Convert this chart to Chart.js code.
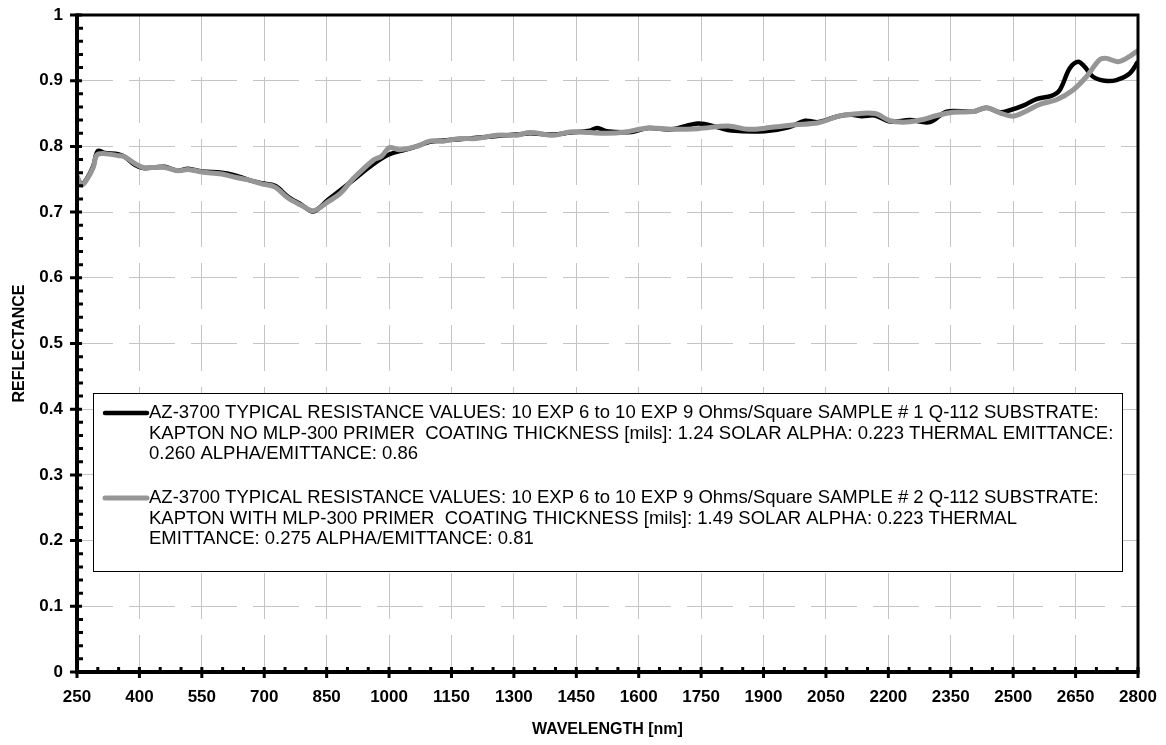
<!DOCTYPE html>
<html>
<head>
<meta charset="utf-8">
<title>AZ-3700 Reflectance</title>
<script src="https://cdn.jsdelivr.net/npm/chart.js@4.4.1/dist/chart.umd.min.js"></script>
<style>
  html, body { margin: 0; padding: 0; background: #ffffff; }
  canvas { display: block; }
</style>
</head>
<body>
<canvas id="chart" width="1166" height="745"></canvas>
<script>
// Sample 1: Kapton without MLP-300 primer
const sample1Nm = [250, 261, 273, 289, 300, 317, 349, 365, 389, 409, 437, 461, 493, 517, 550, 598, 630, 662, 694, 726, 758, 790, 818, 854, 882, 914, 962, 1001, 1040, 1066, 1098, 1130, 1170, 1210, 1259, 1307, 1339, 1395, 1435, 1483, 1500, 1523, 1583, 1623, 1679, 1743, 1790, 1823, 1903, 1960, 2000, 2032, 2080, 2112, 2136, 2168, 2204, 2252, 2300, 2340, 2404, 2436, 2468, 2492, 2524, 2556, 2592, 2612, 2636, 2656, 2672, 2692, 2720, 2748, 2780, 2800];
const sample1R = [0.752, 0.743, 0.750, 0.770, 0.793, 0.790, 0.788, 0.784, 0.772, 0.767, 0.768, 0.769, 0.763, 0.766, 0.762, 0.760, 0.756, 0.749, 0.744, 0.740, 0.723, 0.711, 0.701, 0.719, 0.733, 0.749, 0.773, 0.788, 0.795, 0.800, 0.807, 0.809, 0.811, 0.813, 0.816, 0.818, 0.820, 0.818, 0.821, 0.824, 0.828, 0.823, 0.822, 0.828, 0.826, 0.835, 0.829, 0.824, 0.823, 0.829, 0.839, 0.837, 0.846, 0.848, 0.846, 0.847, 0.838, 0.840, 0.837, 0.853, 0.853, 0.859, 0.852, 0.855, 0.862, 0.872, 0.877, 0.886, 0.919, 0.929, 0.921, 0.906, 0.900, 0.901, 0.911, 0.929];

// Sample 2: Kapton with MLP-300 primer
const sample2Nm = [250, 261, 273, 289, 298, 317, 349, 365, 389, 409, 437, 461, 493, 517, 550, 598, 630, 662, 694, 726, 758, 790, 818, 854, 882, 914, 962, 982, 1001, 1026, 1066, 1098, 1130, 1170, 1210, 1259, 1307, 1339, 1395, 1435, 1483, 1523, 1567, 1623, 1679, 1743, 1815, 1863, 1920, 1976, 2032, 2080, 2112, 2168, 2204, 2244, 2284, 2316, 2356, 2404, 2436, 2468, 2500, 2532, 2564, 2604, 2644, 2676, 2708, 2724, 2752, 2780, 2800];
const sample2R = [0.755, 0.741, 0.749, 0.768, 0.787, 0.789, 0.786, 0.784, 0.774, 0.768, 0.768, 0.768, 0.763, 0.765, 0.761, 0.758, 0.753, 0.749, 0.743, 0.738, 0.721, 0.710, 0.702, 0.716, 0.728, 0.751, 0.779, 0.785, 0.798, 0.795, 0.800, 0.808, 0.808, 0.812, 0.812, 0.817, 0.817, 0.821, 0.817, 0.822, 0.821, 0.820, 0.822, 0.828, 0.826, 0.827, 0.831, 0.826, 0.829, 0.833, 0.836, 0.846, 0.849, 0.850, 0.839, 0.837, 0.841, 0.847, 0.852, 0.853, 0.859, 0.851, 0.846, 0.854, 0.864, 0.871, 0.886, 0.906, 0.932, 0.934, 0.929, 0.937, 0.946];

// Axis tick values (majors are labelled, minors subdivide them)
const xTickValues = [250, 400, 550, 700, 850, 1000, 1150, 1300, 1450, 1600, 1750, 1900, 2050, 2200, 2350, 2500, 2650, 2800];
const yTickValues = [0, 0.1, 0.2, 0.3, 0.4, 0.5, 0.6, 0.7, 0.8, 0.9, 1];
const xMinorPerMajor = 3;
const yMinorPerMajor = 5;

const xTitle = 'WAVELENGTH [nm]';
const yTitle = 'REFLECTANCE';

const sample1Legend = [
  'AZ-3700 TYPICAL RESISTANCE VALUES: 10 EXP 6 to 10 EXP 9 Ohms/Square SAMPLE # 1 Q-112 SUBSTRATE:',
  'KAPTON NO MLP-300 PRIMER  COATING THICKNESS [mils]: 1.24 SOLAR ALPHA: 0.223 THERMAL EMITTANCE:',
  '0.260 ALPHA/EMITTANCE: 0.86'
];
const sample2Legend = [
  'AZ-3700 TYPICAL RESISTANCE VALUES: 10 EXP 6 to 10 EXP 9 Ohms/Square SAMPLE # 2 Q-112 SUBSTRATE:',
  'KAPTON WITH MLP-300 PRIMER  COATING THICKNESS [mils]: 1.49 SOLAR ALPHA: 0.223 THERMAL',
  'EMITTANCE: 0.275 ALPHA/EMITTANCE: 0.81'
];

const FONT = '"Liberation Sans", Arial, Helvetica, sans-serif';
Chart.defaults.font.family = FONT;
Chart.defaults.color = '#000000';

const toPoints = (xs, ys) => xs.map((x, i) => ({ x: x, y: ys[i] }));

// Axis frame with crossing major ticks and inside minor ticks
const framePlugin = {
  id: 'frameTicks',
  afterDatasetsDraw(chart) {
    const { ctx, chartArea: a, scales: { x, y } } = chart;
    ctx.save();
    ctx.strokeStyle = '#000000';
    ctx.lineCap = 'butt';
    ctx.lineWidth = 3;
    ctx.beginPath();
    xTickValues.forEach((v, i) => {
      const px = x.getPixelForValue(v);
      ctx.moveTo(px, a.bottom + 6);
      ctx.lineTo(px, a.bottom - 5);
      if (i < xTickValues.length - 1) {
        const step = (xTickValues[i + 1] - v) / xMinorPerMajor;
        for (let k = 1; k < xMinorPerMajor; k++) {
          const mx = x.getPixelForValue(v + k * step);
          ctx.moveTo(mx, a.bottom);
          ctx.lineTo(mx, a.bottom - 5);
        }
      }
    });
    yTickValues.forEach((v, i) => {
      const py = y.getPixelForValue(v);
      ctx.moveTo(a.left - 7, py);
      ctx.lineTo(a.left + 5, py);
      if (i < yTickValues.length - 1) {
        const step = (yTickValues[i + 1] - v) / yMinorPerMajor;
        for (let k = 1; k < yMinorPerMajor; k++) {
          const my = y.getPixelForValue(v + k * step);
          ctx.moveTo(a.left, my);
          ctx.lineTo(a.left + 6, my);
        }
      }
    });
    ctx.stroke();
    // top and right border
    ctx.lineWidth = 3;
    ctx.beginPath();
    ctx.moveTo(a.left, a.top);
    ctx.lineTo(a.right, a.top);
    ctx.lineTo(a.right, a.bottom);
    ctx.stroke();
    // axes
    ctx.lineWidth = 4;
    ctx.beginPath();
    ctx.moveTo(a.left, a.top - 1.5);
    ctx.lineTo(a.left, a.bottom);
    ctx.lineTo(a.right + 1.5, a.bottom);
    ctx.stroke();
    ctx.restore();
  }
};

// Boxed legend inside the plot area, with pre-broken description lines
const boxLegendPlugin = {
  id: 'boxLegend',
  afterDraw(chart, args, opts) {
    const { ctx, chartArea: a } = chart;
    const left = a.left + opts.insetX;
    const right = a.right - opts.insetX;
    const top = opts.top;
    const bottom = opts.bottom;
    ctx.save();
    ctx.fillStyle = '#ffffff';
    ctx.fillRect(left, top, right - left, bottom - top);
    ctx.strokeStyle = '#000000';
    ctx.lineWidth = 1;
    ctx.strokeRect(Math.round(left) + 0.5, Math.round(top) + 0.5, Math.round(right - left), Math.round(bottom - top));
    ctx.font = opts.fontSize + 'px ' + FONT;
    ctx.textBaseline = 'middle';
    ctx.textAlign = 'left';
    ctx.fillStyle = '#000000';
    chart.data.datasets.forEach((ds, di) => {
      const lines = ds.legendLines;
      const y0 = opts.firstLineY[di];
      ctx.strokeStyle = ds.borderColor;
      ctx.lineWidth = ds.borderWidth;
      ctx.lineCap = 'round';
      ctx.beginPath();
      ctx.moveTo(left + opts.swatchStart, y0);
      ctx.lineTo(left + opts.swatchEnd, y0);
      ctx.stroke();
      lines.forEach((t, li) => {
        ctx.fillText(t, left + opts.textStart, y0 + li * opts.lineGap);
      });
    });
    ctx.restore();
  }
};

new Chart(document.getElementById('chart'), {
  type: 'line',
  data: {
    datasets: [
      {
        label: sample1Legend.join(' '),
        legendLines: sample1Legend,
        data: toPoints(sample1Nm, sample1R),
        borderColor: '#000000',
        borderWidth: 4.5,
        pointRadius: 0,
        tension: 0.35,
        fill: false,
        order: 1
      },
      {
        label: sample2Legend.join(' '),
        legendLines: sample2Legend,
        data: toPoints(sample2Nm, sample2R),
        borderColor: '#969696',
        borderWidth: 5,
        pointRadius: 0,
        tension: 0.35,
        fill: false,
        order: 0
      }
    ]
  },
  options: {
    responsive: false,
    animation: false,
    devicePixelRatio: 1,
    layout: { padding: { top: 15, right: 28, left: 0, bottom: 0 } },
    plugins: {
      legend: { display: false },
      tooltip: { enabled: false },
      boxLegend: {
        insetX: 16,
        top: 393,
        bottom: 571,
        swatchStart: 12,
        swatchEnd: 54,
        textStart: 56,
        fontSize: 18.5,
        lineGap: 20.5,
        firstLineY: [413, 498]
      }
    },
    scales: {
      x: {
        type: 'linear',
        min: 250,
        max: 2800,
        afterBuildTicks: s => { s.ticks = xTickValues.map(v => ({ value: v })); },
        afterFit: s => { s.height = 73; s.paddingLeft = 0; s.paddingRight = 0; },
        ticks: {
          font: { size: 17, weight: 'bold' },
          color: '#000000',
          padding: 15,
          maxRotation: 0,
          autoSkip: false,
          callback: v => String(v)
        },
        grid: { color: '#c4c4c4', lineWidth: 1, drawTicks: false },
        border: { display: false, dash: [46, 16], dashOffset: 0 },
        title: {
          display: true,
          text: xTitle,
          font: { size: 16, weight: 'bold' },
          color: '#000000',
          padding: { top: 0, bottom: 6 }
        }
      },
      y: {
        type: 'linear',
        min: 0,
        max: 1,
        afterBuildTicks: s => { s.ticks = yTickValues.map(v => ({ value: v })); },
        afterFit: s => { s.width = 77; s.paddingTop = 0; s.paddingBottom = 0; },
        ticks: {
          font: { size: 17, weight: 'bold' },
          color: '#000000',
          padding: 14,
          autoSkip: false,
          callback: v => String(Math.round(v * 10) / 10)
        },
        grid: { color: '#c4c4c4', lineWidth: 1, drawTicks: false },
        border: { display: false, dash: [46, 16], dashOffset: 10 },
        title: {
          display: true,
          text: yTitle,
          font: { size: 16, weight: 'bold' },
          color: '#000000',
          padding: { top: 10, bottom: 0 }
        }
      }
    }
  },
  plugins: [framePlugin, boxLegendPlugin]
});
</script>
</body>
</html>
